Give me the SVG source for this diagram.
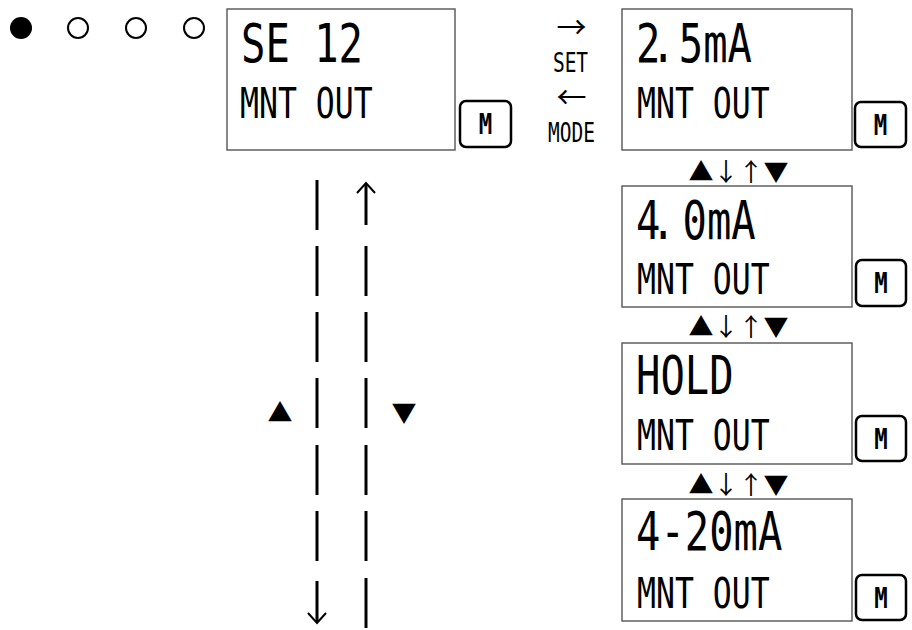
<svg xmlns="http://www.w3.org/2000/svg" width="912" height="630" viewBox="0 0 912 630">
<style>
.box{fill:#fff;stroke:#555;stroke-width:1.4}
.btn{fill:#fff;stroke:#000;stroke-width:2.5}
.big{font-family:"DejaVu Sans Mono","Liberation Mono",monospace;font-size:54px;fill:#000}
.mid{font-family:"DejaVu Sans Mono","Liberation Mono",monospace;font-size:42px;fill:#000}
.m{font-family:"DejaVu Sans Mono","Liberation Mono",monospace;font-size:28px;font-weight:bold;fill:#000;text-anchor:middle}
.lbl{font-family:"DejaVu Sans Mono","Liberation Mono",monospace;font-size:26px;fill:#000;text-anchor:middle}
.sym{font-family:"Noto Sans CJK JP","DejaVu Sans",sans-serif;font-size:25px;fill:#000;text-anchor:middle}
.arr{font-family:"Noto Sans CJK JP","DejaVu Sans",sans-serif;font-size:30px;fill:#000;text-anchor:middle}
.ln{stroke:#000;stroke-width:3;fill:none}
.hd{stroke:#000;stroke-width:2;fill:none}
</style>
<g id="indicators">
<circle cx="21" cy="28" r="11" fill="#000"/>
<circle cx="78" cy="28" r="10" fill="none" stroke="#000" stroke-width="2"/>
<circle cx="136" cy="28" r="10" fill="none" stroke="#000" stroke-width="2"/>
<circle cx="194" cy="28" r="10" fill="none" stroke="#000" stroke-width="2"/>
</g>
<g id="node-se12">
<rect class="box" x="227" y="9" width="228" height="141"/>
<text class="big" transform="matrix(0.75 0 0 1 241 62)">SE 12</text>
<text class="mid" transform="matrix(0.75 0 0 1 240 118)">MNT OUT</text>
<rect class="btn" x="460" y="101" width="51" height="46" rx="6"/>
<text class="m" transform="matrix(0.8 0 0 1 485.5 134)">M</text>
</g>
<g id="node-25ma">
<rect class="box" x="622" y="9" width="230" height="141"/>
<text class="big" transform="matrix(0.75 0 0 1 636 62)" dx="0 -12.5 0 -28">2. 5mA</text>
<text class="mid" transform="matrix(0.75 0 0 1 637 118)">MNT OUT</text>
<rect class="btn" x="855" y="102" width="51" height="45" rx="6"/>
<text class="m" transform="matrix(0.8 0 0 1 880.5 135)">M</text>
</g>
<g id="node-40ma">
<rect class="box" x="622" y="186" width="230" height="121"/>
<text class="big" transform="matrix(0.75 0 0 1 636 239)" dx="0 -12.5 0 -23">4. 0mA</text>
<text class="mid" transform="matrix(0.75 0 0 1 637 294)">MNT OUT</text>
<rect class="btn" x="856" y="260" width="50" height="46" rx="6"/>
<text class="m" transform="matrix(0.8 0 0 1 881 293)">M</text>
</g>
<g id="node-hold">
<rect class="box" x="622" y="343" width="230" height="121"/>
<text class="big" transform="matrix(0.75 0 0 1 636 394)">HOLD</text>
<text class="mid" transform="matrix(0.75 0 0 1 637 450)">MNT OUT</text>
<rect class="btn" x="856" y="416" width="50" height="45" rx="6"/>
<text class="m" transform="matrix(0.8 0 0 1 881 449)">M</text>
</g>
<g id="node-420ma">
<rect class="box" x="622" y="499" width="230" height="122"/>
<text class="big" transform="matrix(0.75 0 0 1 636 550)">4-20mA</text>
<text class="mid" transform="matrix(0.75 0 0 1 637 608)">MNT OUT</text>
<rect class="btn" x="856" y="575" width="50" height="45" rx="6"/>
<text class="m" transform="matrix(0.8 0 0 1 881 608)">M</text>
</g>
<g id="connectors">
<text class="arr" x="571.5" y="38">→</text>
<text class="lbl" transform="matrix(0.75 0 0 1 570.5 72)">SET</text>
<text class="arr" x="571.5" y="108">←</text>
<text class="lbl" transform="matrix(0.75 0 0 1 571.5 142)">MODE</text>
<text class="sym" x="701 726 751 776" y="181">▲↓↑▼</text>
<text class="sym" x="701 726 751 776" y="336">▲↓↑▼</text>
<text class="sym" x="701 726 751 776" y="494">▲↓↑▼</text>
<path class="ln" d="M317 180V230M317 246V296M317 312V362M317 378V428M317 445V495M317 511V561M317 581V622"/>
<path class="hd" d="M308 613L317 623L326 613"/>
<path class="ln" d="M366 184V225M366 246V296M366 312V362M366 378V428M366 445V495M366 511V561M366 578V628"/>
<path class="hd" d="M357 193L366 183L375 193"/>
<text class="sym" x="280" y="422">▲</text>
<text class="sym" x="404" y="422">▼</text>
</g>
</svg>
